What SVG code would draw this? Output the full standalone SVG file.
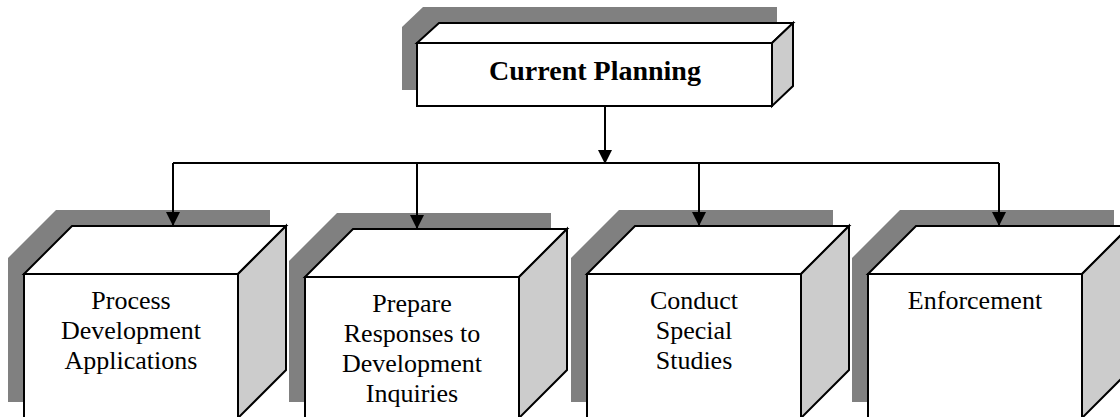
<svg xmlns="http://www.w3.org/2000/svg" width="1120" height="417" viewBox="0 0 1120 417">
<style>
.shadow{fill:#808080;stroke:none}
.face{fill:#ffffff;stroke:#000;stroke-width:2;stroke-linejoin:miter}
.side{fill:#cccccc;stroke:#000;stroke-width:2}
.lbl{font-family:"Liberation Serif","Times New Roman",serif;font-size:26px;fill:#000;text-anchor:middle}
.title{font-family:"Liberation Serif","Times New Roman",serif;font-size:28px;font-weight:bold;fill:#000;text-anchor:middle}
.conn{fill:none;stroke:#000;stroke-width:2}
</style>
<defs>
<marker id="ah" viewBox="0 0 14 14" markerWidth="14" markerHeight="14" markerUnits="userSpaceOnUse" refX="14" refY="7" orient="auto">
<path d="M0,0 L14,7 L0,14 z" fill="#000"/>
</marker>
</defs>
<rect width="1120" height="417" fill="#fff"/>
<g id="current-planning">
<polygon class="shadow" points="402,27 423,7 777,7 777,69 756,90 402,90"/>
<polygon class="face" points="417,43 439,23 793,23 772,43"/>
<polygon class="side" points="772,43 793,23 793,86 772,106"/>
<rect class="face" x="417" y="43" width="355" height="63"/>
<text class="title" x="595" y="80">Current Planning</text>
</g>
<g id="process-dev">
<polygon class="shadow" points="8,258 56,210 270,210 270,354 222,402 8,402"/>
<polygon class="face" points="24,274 72,226 286,226 238,274"/>
<polygon class="side" points="238,274 286,226 286,370 238,418"/>
<rect class="face" x="24" y="274" width="214" height="146"/>
<text class="lbl" x="131" y="309">Process</text>
<text class="lbl" x="131" y="339">Development</text>
<text class="lbl" x="131" y="369">Applications</text>
</g>
<g id="prepare-responses">
<polygon class="shadow" points="289,261 337,213 551,213 551,354 503,402 289,402"/>
<polygon class="face" points="305,277 353,229 567,229 519,277"/>
<polygon class="side" points="519,277 567,229 567,370 519,418"/>
<rect class="face" x="305" y="277" width="214" height="143"/>
<text class="lbl" x="412" y="312">Prepare</text>
<text class="lbl" x="412" y="342">Responses to</text>
<text class="lbl" x="412" y="372">Development</text>
<text class="lbl" x="412" y="402">Inquiries</text>
</g>
<g id="special-studies">
<polygon class="shadow" points="571,258 619,210 833,210 833,354 785,402 571,402"/>
<polygon class="face" points="587,274 635,226 849,226 801,274"/>
<polygon class="side" points="801,274 849,226 849,370 801,418"/>
<rect class="face" x="587" y="274" width="214" height="146"/>
<text class="lbl" x="694" y="309">Conduct</text>
<text class="lbl" x="694" y="339">Special</text>
<text class="lbl" x="694" y="369">Studies</text>
</g>
<g id="enforcement">
<polygon class="shadow" points="852,258 900,210 1114,210 1114,354 1066,402 852,402"/>
<polygon class="face" points="868,274 916,226 1130,226 1082,274"/>
<polygon class="side" points="1082,274 1130,226 1130,370 1082,418"/>
<rect class="face" x="868" y="274" width="214" height="146"/>
<text class="lbl" x="975" y="309">Enforcement</text>
</g>
<g id="connectors">
<line class="conn" x1="605" y1="106" x2="605" y2="164" marker-end="url(#ah)"/>
<line class="conn" x1="173" y1="163" x2="999" y2="163"/>
<line class="conn" x1="173" y1="163" x2="173" y2="226" marker-end="url(#ah)"/>
<line class="conn" x1="417" y1="163" x2="417" y2="229" marker-end="url(#ah)"/>
<line class="conn" x1="699" y1="163" x2="699" y2="226" marker-end="url(#ah)"/>
<line class="conn" x1="999" y1="163" x2="999" y2="226" marker-end="url(#ah)"/>
</g>
</svg>
